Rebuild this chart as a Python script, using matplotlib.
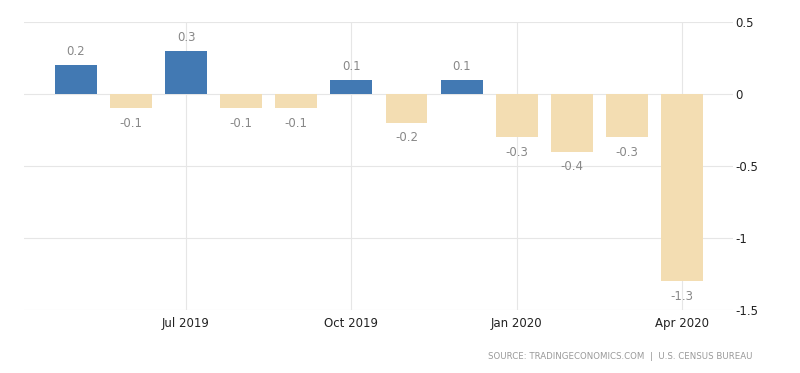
import matplotlib.pyplot as plt
import numpy as np

months = ['May 2019', 'Jun 2019', 'Jul 2019', 'Aug 2019', 'Sep 2019', 'Oct 2019',
          'Nov 2019', 'Dec 2019', 'Jan 2020', 'Feb 2020', 'Mar 2020', 'Apr 2020']
values = [0.2, -0.1, 0.3, -0.1, -0.1, 0.1, -0.2, 0.1, -0.3, -0.4, -0.3, -1.3]
tick_months = ['Jul 2019', 'Oct 2019', 'Jan 2020', 'Apr 2020']

BLUE = '#4279b3'
BEIGE = '#f3ddb2'

fig = plt.figure(figsize=(8, 3.73), dpi=100)
ax = fig.add_axes([0.03, 0.169, 0.886, 0.772])

x = np.arange(len(months))
colors = [BLUE if v > 0 else BEIGE for v in values]
ax.bar(x, values, width=0.76, color=colors, zorder=2)

for xi, v in zip(x, values):
    if v > 0:
        ax.annotate('%.1f' % v, (xi, v), xytext=(0, 5), textcoords='offset points',
                    ha='center', va='bottom', fontsize=8.5, color='#888888')
    else:
        ax.annotate('%.1f' % v, (xi, v), xytext=(0, -6), textcoords='offset points',
                    ha='center', va='top', fontsize=8.5, color='#888888')

ax.set_xlim(-0.94, 11.92)
ax.set_ylim(-1.5, 0.5)
ax.set_yticks([0.5, 0, -0.5, -1, -1.5])
ax.set_yticklabels(['0.5', '0', '-0.5', '-1', '-1.5'])
ax.yaxis.tick_right()
ax.set_xticks([months.index(m) for m in tick_months])
ax.set_xticklabels(tick_months)
ax.tick_params(axis='both', length=0, labelsize=8.5, colors='#222222')
ax.tick_params(axis='x', pad=5)
ax.tick_params(axis='y', pad=2)
ax.grid(True, color='#e6e6e6', lw=0.8, zorder=0)
for s in ax.spines.values():
    s.set_visible(False)

fig.text(0.94, 0.045, 'SOURCE: TRADINGECONOMICS.COM  |  U.S. CENSUS BUREAU',
         ha='right', va='center', fontsize=6.2, color='#999999')

fig.savefig('out.png', dpi=100)
